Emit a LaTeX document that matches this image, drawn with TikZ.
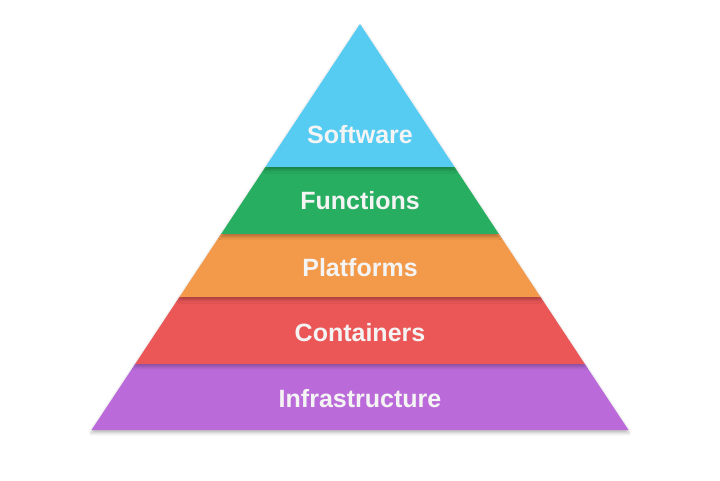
\documentclass[tikz,border=0pt]{standalone}
\usepackage{fontspec}
\setmainfont{Liberation Sans}
\usetikzlibrary{calc,shadows.blur}
\definecolor{cSoft}{HTML}{56CCF2}
\definecolor{cFunc}{HTML}{27AE60}
\definecolor{cPlat}{HTML}{F2994A}
\definecolor{cCont}{HTML}{EB5757}
\definecolor{cInfr}{HTML}{BB6BD9}
\definecolor{cText}{HTML}{F4F4F4}
\tikzset{
  layer/.style={blur shadow={shadow xshift=0pt, shadow yshift=-2.5pt, shadow blur radius=3.5pt, shadow opacity=30}},
  lbl/.style={text=cText, font=\fontsize{25}{28}\selectfont\bfseries, inner sep=0pt, anchor=center}
}
\begin{document}
\begin{tikzpicture}[x=1pt,y=-1pt]
\useasboundingbox (0,0) rectangle (720,480);
\coordinate (apex) at (360,24);
\coordinate (BL) at (91.5,430);
\coordinate (BR) at (628.5,430);
% boundary points
\foreach \n/\f in {a/0.3522,b/0.5172,c/0.6724,d/0.8374}{
  \coordinate (L\n) at ($(apex)!\f!(BL)$);
  \coordinate (R\n) at ($(apex)!\f!(BR)$);
}
% draw bottom to top so shadows fall onto lower layers
\fill[cInfr, layer] (Ld) -- (Rd) -- (BR) -- (BL) -- cycle;
\fill[cCont, layer] (Lc) -- (Rc) -- (Rd) -- (Ld) -- cycle;
\fill[cPlat, layer] (Lb) -- (Rb) -- (Rc) -- (Lc) -- cycle;
\fill[cFunc, layer] (La) -- (Ra) -- (Rb) -- (Lb) -- cycle;
\fill[cSoft, layer] (apex) -- (Ra) -- (La) -- cycle;
% labels
\node[lbl] (soft) at (360,135) {Software};
\node[lbl] (func) at (360,201) {Functions};
\node[lbl] (plat) at (360,268) {Platforms};
\node[lbl] (cont) at (360,333) {Containers};
\node[lbl] (infr) at (360,399) {Infrastructure};
\end{tikzpicture}
\end{document}
